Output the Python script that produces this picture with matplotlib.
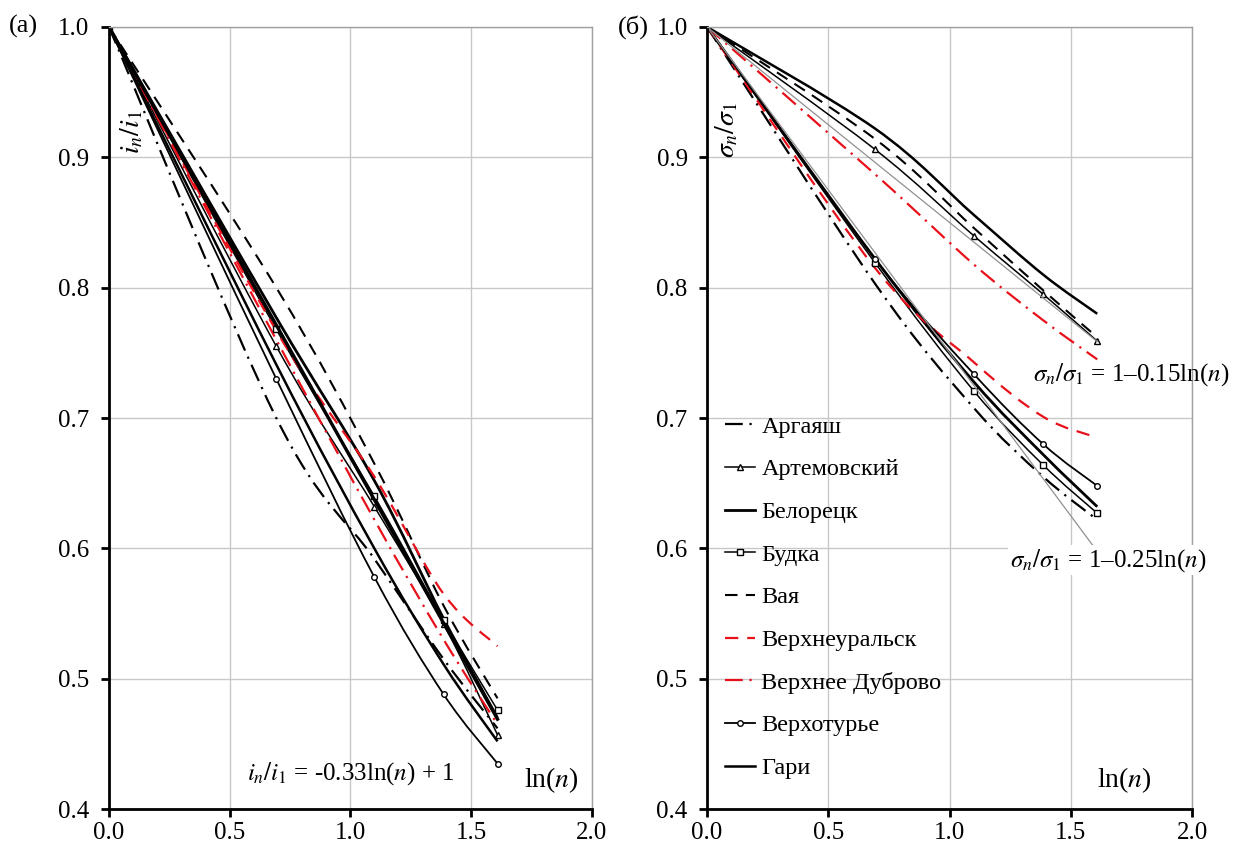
import numpy as np
import matplotlib.pyplot as plt
from matplotlib.path import Path
from matplotlib.patches import PathPatch
from matplotlib.lines import Line2D

plt.rcParams['font.family'] = ['Liberation Serif', 'DejaVu Serif']
plt.rcParams['mathtext.fontset'] = 'stix'

# ln(n) for n = 1..5
x = [0.0, 0.693, 1.099, 1.386, 1.609]

names = ['Аргаяш', 'Артемовский', 'Белорецк', 'Будка', 'Вая',
         'Верхнеуральск', 'Верхнее Дуброво', 'Верхотурье', 'Гари']

# panel (a): i_n / i_1
a_argayash = [1.0, 0.700, 0.592, 0.515, 0.462]
a_artem = [1.0, 0.755, 0.632, 0.542, 0.457]
a_belor = [1.0, 0.777, 0.652, 0.546, 0.470]
a_budka = [1.0, 0.768, 0.640, 0.545, 0.476]
a_vaya = [1.0, 0.800, 0.665, 0.556, 0.485]
a_vural = [1.0, 0.767, 0.655, 0.565, 0.525]
a_vdub = [1.0, 0.760, 0.622, 0.530, 0.465]
a_vtur = [1.0, 0.730, 0.578, 0.488, 0.435]
a_gari = [1.0, 0.741, 0.600, 0.511, 0.452]

# panel (б): sigma_n / sigma_1
b_argayash = [1.0, 0.803, 0.708, 0.655, 0.622]
b_artem = [1.0, 0.906, 0.840, 0.795, 0.759]
b_belor = [1.0, 0.822, 0.728, 0.672, 0.632]
b_budka = [1.0, 0.819, 0.721, 0.664, 0.627]
b_vaya = [1.0, 0.914, 0.846, 0.798, 0.762]
b_vural = [1.0, 0.815, 0.743, 0.701, 0.685]
b_vdub = [1.0, 0.887, 0.818, 0.775, 0.745]
b_vtur = [1.0, 0.822, 0.734, 0.680, 0.648]
b_gari = [1.0, 0.922, 0.856, 0.810, 0.780]

# trend coefficients (intercept, slope)
trend_a = (1.0, -0.33)
trend_b1 = (1.0, -0.15)
trend_b2 = (1.0, -0.25)

styles = [
    dict(color='k', lw=1.6, dashes=(8, 3, 1, 3)),
    dict(color='k', lw=1.1, marker='^', ms=4, mfc='white'),
    dict(color='k', lw=2.0),
    dict(color='k', lw=1.1, marker='s', ms=4, mfc='white'),
    dict(color='k', lw=1.5, dashes=(6, 4)),
    dict(color='#e8101a', lw=1.6, dashes=(6, 4)),
    dict(color='#e8101a', lw=1.6, dashes=(8, 3, 1, 3)),
    dict(color='k', lw=1.3, marker='o', ms=4, mfc='white'),
    dict(color='k', lw=1.8),
]


def smooth_line(ax, xs, ys, st):
    # Excel-like smoothed line: cubic Bezier through the data points
    p = np.column_stack([xs, ys])
    ext = np.vstack([p[0], p, p[-1]])
    verts = [p[0]]
    codes = [Path.MOVETO]
    for i in range(len(p) - 1):
        c1 = ext[i + 1] + (ext[i + 2] - ext[i]) / 6
        c2 = ext[i + 2] - (ext[i + 3] - ext[i + 1]) / 6
        verts += [c1, c2, ext[i + 2]]
        codes += [Path.CURVE4] * 3
    ls = (0, st['dashes']) if 'dashes' in st else '-'
    ax.add_patch(PathPatch(Path(verts, codes), fill=False, edgecolor=st['color'],
                           lw=st['lw'], linestyle=ls, capstyle='butt'))
    if 'marker' in st:
        ax.plot(xs, ys, ls='none', marker=st['marker'], ms=st['ms'],
                mfc=st['mfc'], mec=st['color'])


fig = plt.figure(figsize=(12.34, 8.42), dpi=100)
ax1 = fig.add_axes([0.0883, 0.039, 0.3914, 0.929])
ax2 = fig.add_axes([0.573, 0.039, 0.393, 0.929])


def style_axes(ax):
    ax.set_xlim(0, 2.0)
    ax.set_ylim(0.4, 1.0)
    ax.set_xticks(np.arange(0, 2.01, 0.5))
    ax.set_yticks(np.arange(0.4, 1.01, 0.1))
    ax.set_xticklabels(['0.0', '0.5', '1.0', '1.5', '2.0'])
    ax.set_yticklabels(['0.4', '0.5', '0.6', '0.7', '0.8', '0.9', '1.0'])
    ax.grid(True, color='#c8c8c8', lw=1.0)
    ax.set_axisbelow(True)
    for s in ['top', 'right']:
        ax.spines[s].set_color('#a0a0a0')
        ax.spines[s].set_linewidth(1.0)
    for s in ['left', 'bottom']:
        ax.spines[s].set_color('k')
        ax.spines[s].set_linewidth(2.0)
    ax.tick_params(direction='out', length=6, width=2, labelsize=18)
    ax.tick_params(axis='x', pad=3)
    ax.tick_params(axis='y', pad=8)


series_a = [a_argayash, a_artem, a_belor, a_budka, a_vaya, a_vural, a_vdub, a_vtur, a_gari]
series_b = [b_argayash, b_artem, b_belor, b_budka, b_vaya, b_vural, b_vdub, b_vtur, b_gari]
xt = np.array([x[0], x[-1]])

style_axes(ax1)
for y, st in zip(series_a, styles):
    smooth_line(ax1, x, y, st)
ax1.plot(xt, trend_a[0] + trend_a[1] * xt, color='k', lw=2.4)
ax1.text(0.5, 0.046, r'$i_n/i_1$ = -0.33ln($n$) + 1', transform=ax1.transAxes,
         fontsize=18, ha='center', va='center')
ax1.text(0.915, 0.037, r'ln($n$)', transform=ax1.transAxes, fontsize=20,
         ha='center', va='center')
ax1.text(0.048, 0.866, r'$i_n/i_1$', transform=ax1.transAxes, fontsize=20,
         rotation=90, ha='center', va='center')
fig.text(0.019, 0.968, '(a)', fontsize=19, ha='center', va='center')

style_axes(ax2)
for y, st in zip(series_b, styles):
    smooth_line(ax2, x, y, st)
ax2.plot(xt, trend_b1[0] + trend_b1[1] * xt, color='#909090', lw=0.9)
ax2.plot(xt, trend_b2[0] + trend_b2[1] * xt, color='#909090', lw=0.9)
ax2.text(0.874, 0.555, r'$\sigma_n/\sigma_1$ = 1–0.15ln($n$)', transform=ax2.transAxes,
         fontsize=18, ha='center', va='center', clip_on=False)
ax2.text(0.827, 0.318, r'$\sigma_n/\sigma_1$ = 1–0.25ln($n$)', transform=ax2.transAxes,
         fontsize=18, ha='center', va='center',
         bbox=dict(facecolor='white', edgecolor='none', pad=1))
ax2.text(0.86, 0.037, r'ln($n$)', transform=ax2.transAxes, fontsize=20,
         ha='center', va='center')
ax2.text(0.041, 0.868, r'$\sigma_n/\sigma_1$', transform=ax2.transAxes, fontsize=20,
         rotation=90, ha='center', va='center')
fig.text(0.513, 0.968, '(б)', fontsize=19, ha='center', va='center')

handles = [Line2D([], [], **st) for st in styles]
ax2.legend(handles, names, loc='upper left', bbox_to_anchor=(0.037, 0.503), frameon=False,
           fontsize=17.5, handlelength=1.25, handletextpad=0.25, labelspacing=0.85,
           borderpad=0, borderaxespad=0)

fig.savefig('out.png', dpi=100)
